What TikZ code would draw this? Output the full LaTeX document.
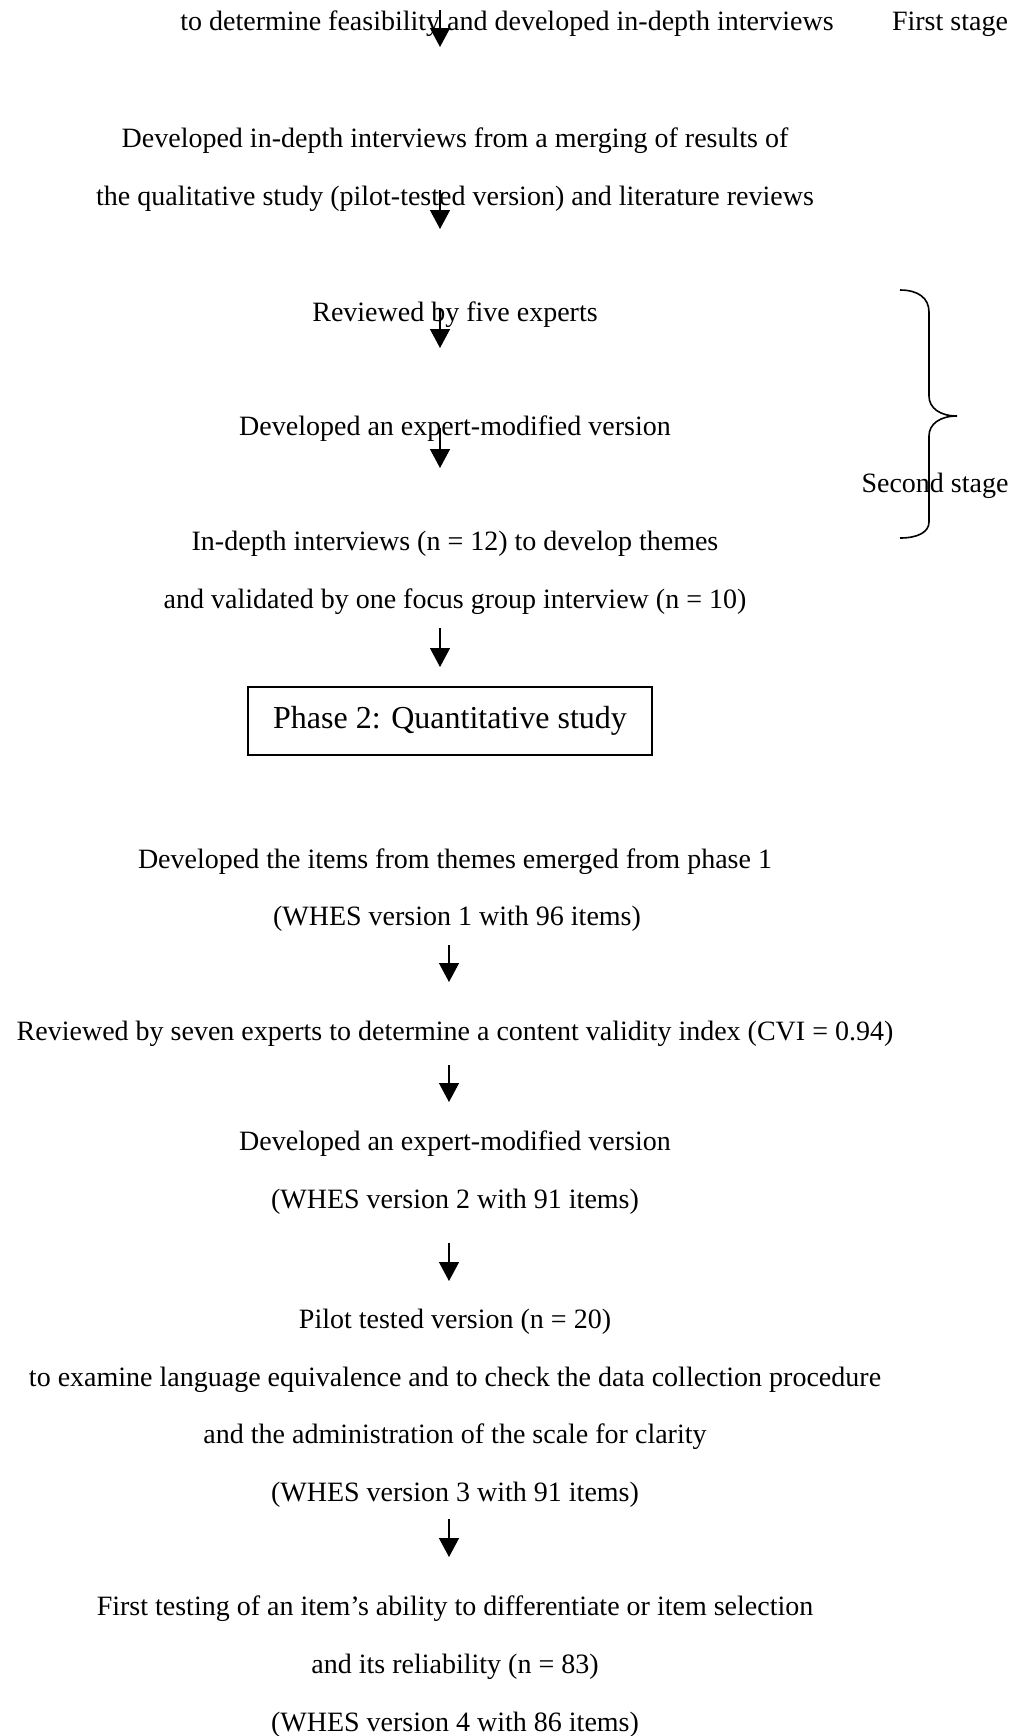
\documentclass[tikz,border=0pt]{standalone}
\usepackage{fontspec}
\setmainfont{Liberation Serif}
\usetikzlibrary{arrows.meta}

\begin{document}
\begin{tikzpicture}[x=0.5pt, y=-0.5pt,
    txt/.style={anchor=base, inner sep=0pt, font=\fontsize{14}{17}\selectfont},
    flow/.style={line width=0.65pt, -{Triangle[length=9.5pt, width=10pt]}}]
    \useasboundingbox (0,0) rectangle (1021,1736);
    % first stage
    \node[txt] (l1) at (507,30) {to determine feasibility and developed in-depth interviews};
    \node[txt] (first) at (950,30) {First stage};
    % second stage
    \node[txt] (l2) at (455,147) {Developed in-depth interviews from a merging of results of};
    \node[txt] (l3) at (455,205) {the qualitative study (pilot-tested version) and literature reviews};
    \node[txt] (l4) at (455,321) {Reviewed by five experts};
    \node[txt] (l5) at (455,435) {Developed an expert-modified version};
    \node[txt] (l6) at (455,550) {In-depth interviews (n = 12) to develop themes};
    \node[txt] (l7) at (455,608) {and validated by one focus group interview (n = 10)};
    \node[txt] (second) at (935,492) {Second stage};
    % phase 2
    \node[draw, line width=0.9pt, minimum width=202pt, minimum height=34pt,
      font=\fontsize{16}{19}\selectfont] (phase2) at (450,721) {Phase 2: Quantitative study};
    \node[txt] (l8) at (455,868) {Developed the items from themes emerged from phase 1};
    \node[txt] (l9) at (457,925) {(WHES version 1 with 96 items)};
    \node[txt] (l10) at (455,1040) {Reviewed by seven experts to determine a content validity index (CVI = 0.94)};
    \node[txt] (l11) at (455,1150) {Developed an expert-modified version};
    \node[txt] (l12) at (455,1208) {(WHES version 2 with 91 items)};
    \node[txt] (l13) at (455,1328) {Pilot tested version (n = 20)};
    \node[txt] (l14) at (455,1386) {to examine language equivalence and to check the data collection procedure};
    \node[txt] (l15) at (455,1443) {and the administration of the scale for clarity};
    \node[txt] (l16) at (455,1501) {(WHES version 3 with 91 items)};
    \node[txt] (l17) at (455,1615) {First testing of an item’s ability to differentiate or item selection};
    \node[txt] (l18) at (455,1673) {and its reliability (n = 83)};
    \node[txt] (l19) at (455,1731) {(WHES version 4 with 86 items)};
    % arrows
    \foreach \i/\x/\ya/\yb in {1/440/10/47, 2/440/190/229, 3/440/308/348, 4/440/428/468,
        5/440/628/667, 6/449/945/982, 7/449/1065/1102, 8/449/1243/1281, 9/449/1519/1557} {
      \coordinate (top\i) at (\x,\ya);
      \coordinate (tip\i) at (\x,\yb);
      \draw[flow] (top\i) -- (tip\i);
    }
    % brace
    \draw[line width=0.8pt] (900,290) .. controls (918,290) and (929,298) .. (929,312)
      -- (929,396) .. controls (929,408) and (940,416) .. (957,416)
      .. controls (940,416) and (929,424) .. (929,436)
      -- (929,522) .. controls (929,532) and (918,538) .. (900,538);
\end{tikzpicture}
\end{document}
